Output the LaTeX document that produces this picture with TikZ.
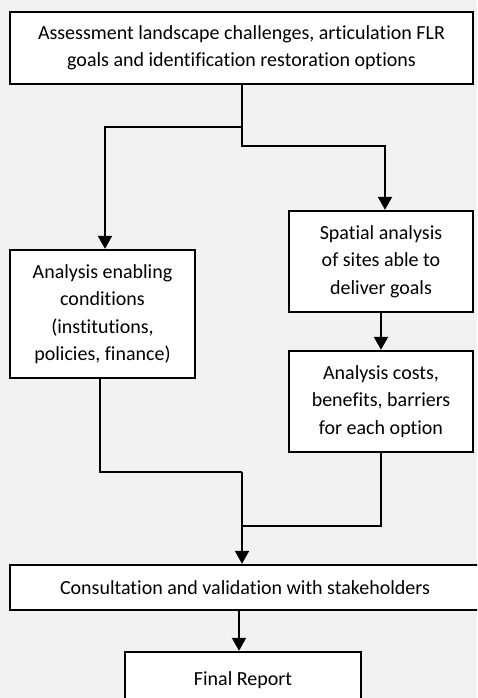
\documentclass[tikz,border=0pt]{standalone}
\usepackage{fontspec}
\setmainfont{Carlito}[Ligatures=NoCommon]
\usetikzlibrary{arrows.meta,calc}
\definecolor{bgcol}{RGB}{242,242,242}
\begin{document}
\begin{tikzpicture}[x=1pt,y=-1pt,
  stepbox/.style={draw=black, line width=2.4pt, fill=white, inner sep=0pt,
    align=center, font=\fontsize{20}{27.5}\selectfont, anchor=center},
  arr/.style={draw=black, line width=2.2pt, -{Triangle[width=14pt,length=13pt]}},
  ln/.style={draw=black, line width=2.2pt}]
\fill[bgcol] (0,0) rectangle (477,698);
\useasboundingbox (0,0) rectangle (477,698);
\begin{scope}
\clip (0,0) rectangle (477,698);
\node[stepbox, minimum width=463pt, minimum height=72pt] (top) at (241.5,48)
  {Assessment landscape challenges, articulation FLR\\goals and identification restoration options};
\node[stepbox, minimum width=185pt, minimum height=128pt] (left) at (102.5,314)
  {Analysis enabling\\conditions\\(institutions,\\policies, finance)};
\node[stepbox, minimum width=184pt, minimum height=101pt] (spatial) at (381,261.5)
  {Spatial analysis\\of sites able to\\deliver goals};
\node[stepbox, minimum width=184pt, minimum height=101pt] (cost) at (381,401.5)
  {Analysis costs,\\benefits, barriers\\for each option};
\node[stepbox, minimum width=476pt, minimum height=45pt] (consult) at (248,587.5)
  {\hspace*{-6pt}Consultation and validation with stakeholders};
\node[stepbox, minimum width=236pt, minimum height=56pt] (final) at (243,680)
  {\raisebox{1.5pt}{Final Report}};
\coordinate (b1) at (242,127);
\coordinate (j1) at (242,472);
\draw[arr] (top.south -| b1) -- (b1) -| ([xshift=2.5pt]left.north);
\draw[arr] (b1) -- (242,146) -| ([xshift=4pt]spatial.north);
\draw[arr] (spatial.south) -- (cost.north);
\draw[ln] ([xshift=-2.5pt]left.south) |- (j1);
\draw[ln] (cost.south) |- (242,526);
\draw[arr] (j1) -- (consult.north -| j1);
\draw[arr] (consult.south -| 239,0) -- (final.north -| 239,0);
\end{scope}
\end{tikzpicture}
\end{document}
